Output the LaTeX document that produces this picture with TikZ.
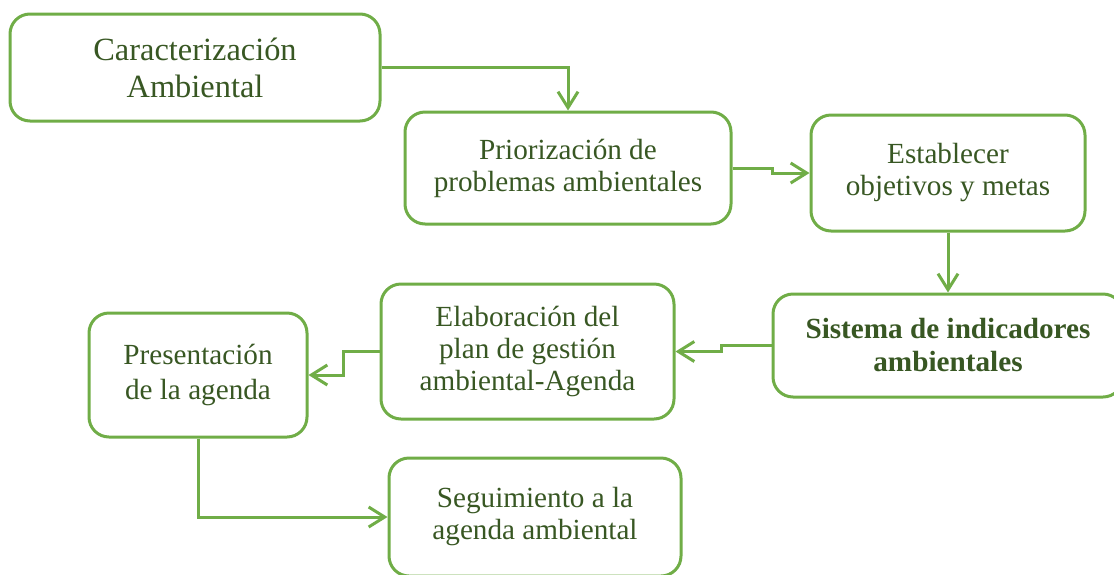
\documentclass[tikz,border=0pt]{standalone}
\usepackage{fontspec}
\setmainfont{Liberation Serif}
\usepackage{tikz}
\usetikzlibrary{arrows.meta}
\definecolor{verdeborde}{HTML}{70AD47}
\definecolor{verdetexto}{HTML}{385723}
\tikzstyle{etapa}=[draw=verdeborde,line width=1.5pt,rounded corners=10pt,align=center,inner sep=0pt,text=verdetexto,font=\fontsize{14.6}{16}\selectfont]
\tikzstyle{flecha}=[draw=verdeborde,line width=1.5pt,-{Straight Barb[length=8pt,width=10pt]}]
\begin{document}
\begin{tikzpicture}[x=0.5pt,y=-0.5pt]
\useasboundingbox (0,0) rectangle (1114,574);
\node[etapa,minimum width=185pt,minimum height=53.5pt,font=\fontsize{16.2}{18.5}\selectfont] (carac) at (195,67.5) {Caracterización\\Ambiental};
\node[etapa,minimum width=163pt,minimum height=56pt] (prior) at (568,168) {Priorización de\\problemas ambientales};
\node[etapa,minimum width=137pt,minimum height=58pt] (objet) at (948,173) {Establecer\\objetivos y metas};
\node[etapa,minimum width=175pt,minimum height=51.5pt,font=\fontsize{14.6}{16.5}\selectfont\bfseries] (indic) at (948,345.5) {Sistema de indicadores\\ambientales};
\node[etapa,minimum width=146.5pt,minimum height=67.5pt] (plan) at (527.5,351.5) {Elaboración del\\plan de gestión\\ambiental-Agenda};
\node[etapa,minimum width=109pt,minimum height=62pt,font=\fontsize{14.6}{17.5}\selectfont] (agenda) at (198,375) {Presentación\\de la agenda};
\node[etapa,minimum width=146pt,minimum height=59pt] (segui) at (535,517) {Seguimiento a la\\agenda ambiental};
\draw[flecha] (carac) -| (prior);
\draw[flecha] (prior.east) -- ++(40,0) |- (objet.west);
\draw[flecha] (objet) -- (indic);
\draw[flecha] (indic.west) -- ++(-50,0) |- (plan.east);
\draw[flecha] (plan.west) -- ++(-36,0) |- (agenda.east);
\draw[flecha] (agenda) |- (segui);
\end{tikzpicture}
\end{document}
